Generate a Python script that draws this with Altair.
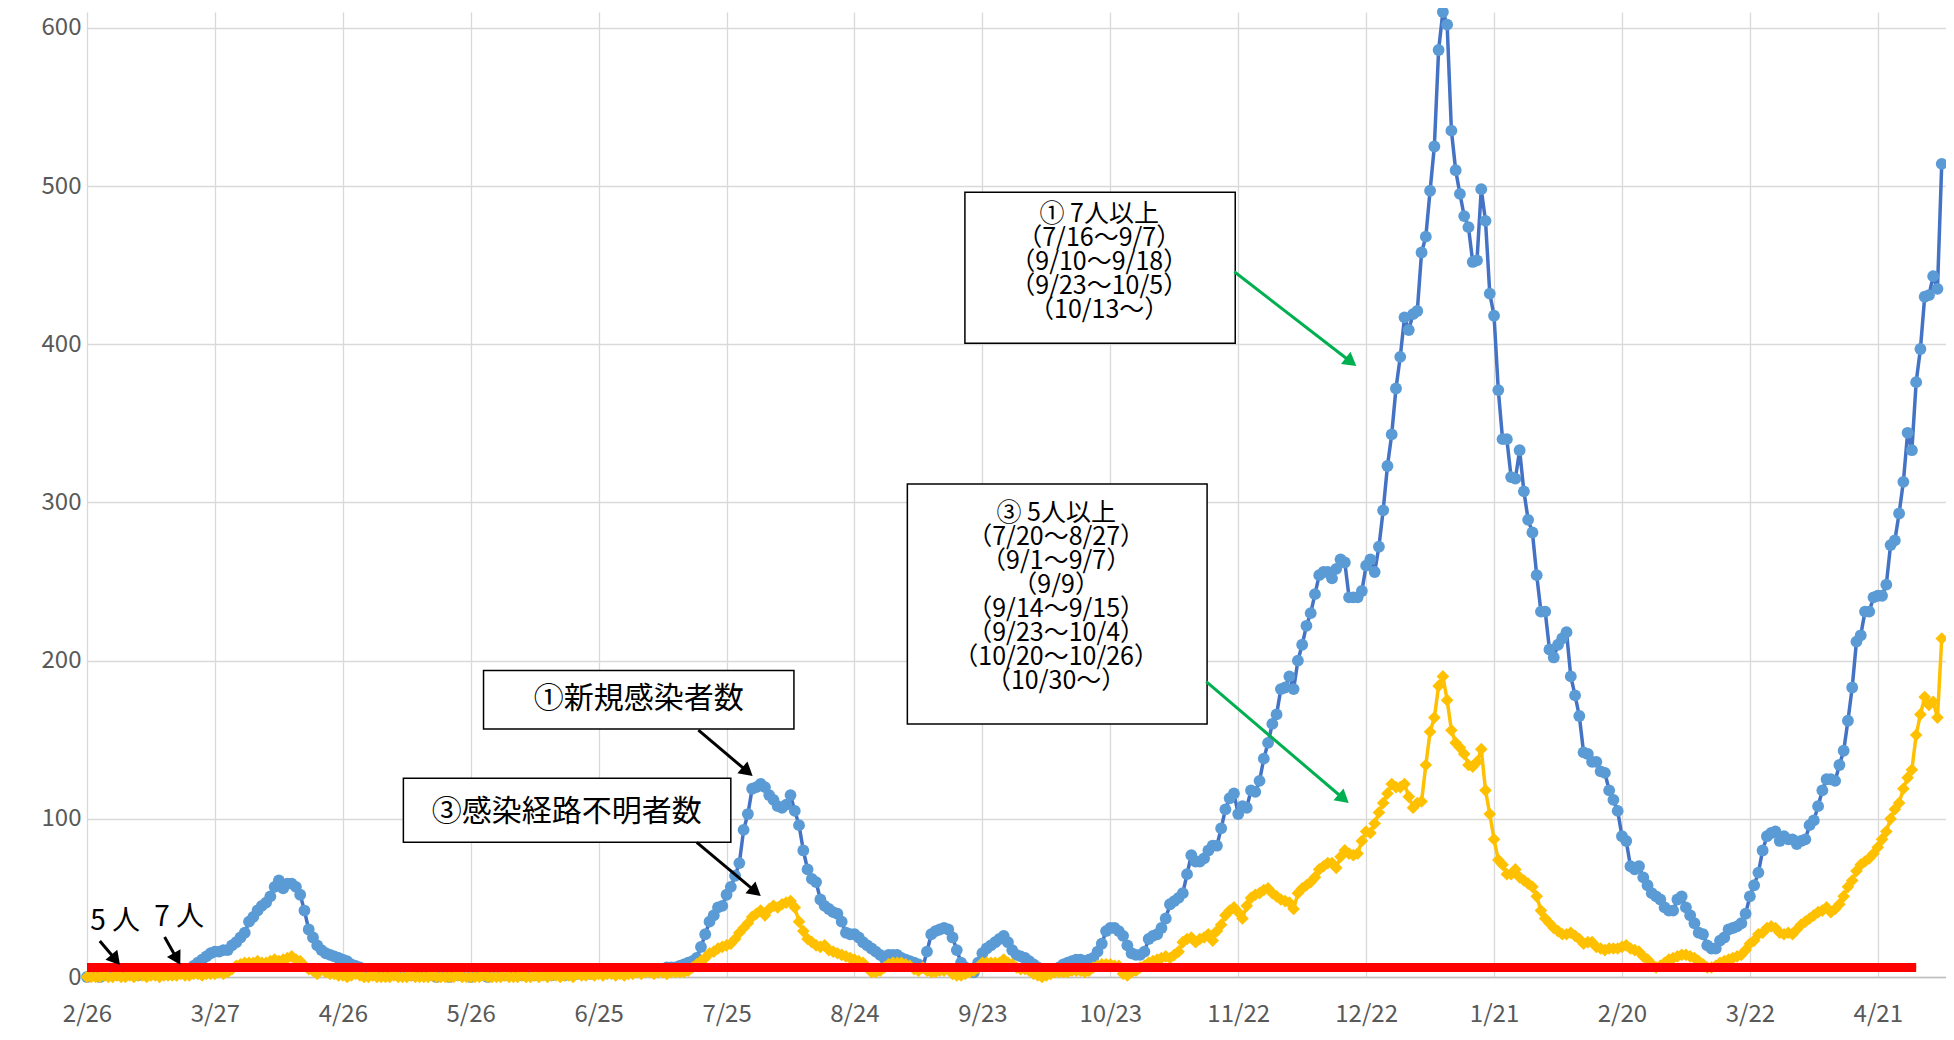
import math
import altair as alt
import pandas as pd

# ---------------- data ----------------
start_date = "2020-02-26"
tick_labels = ["2/26", "3/27", "4/26", "5/26", "6/25", "7/25", "8/24", "9/23",
               "10/23", "11/22", "12/22", "1/21", "2/20", "3/22", "4/21"]

# ① 新規感染者数 (daily, from 2/26)
blue = [
    0, 1, 1, 0, 1, 1, 1, 2, 1, 2,
    2, 2, 1, 2, 3, 2, 3, 3, 2, 3,
    3, 4, 4, 5, 5, 7, 9, 11, 13, 15,
    16, 16, 17, 17, 20, 22, 25, 28, 35, 38,
    42, 45, 47, 51, 57, 61, 56, 59, 59, 57,
    52, 42, 30, 25, 20, 17, 15, 14, 13, 12,
    11, 10, 8, 7, 6, 5, 4, 4, 3, 3,
    3, 2, 2, 2, 2, 1, 1, 1, 1, 1,
    1, 1, 0, 1, 1, 0, 1, 1, 1, 1,
    0, 1, 1, 1, 0, 1, 1, 1, 1, 1,
    1, 1, 1, 2, 1, 1, 1, 2, 1, 1,
    2, 2, 1, 2, 2, 2, 3, 2, 2, 3,
    3, 3, 4, 3, 3, 4, 4, 3, 4, 4,
    4, 5, 4, 5, 5, 5, 6, 6, 6, 7,
    8, 9, 10, 12, 19, 27, 35, 39, 44, 45,
    52, 57, 64, 72, 93, 103, 119, 120, 122, 120,
    115, 112, 108, 107, 109, 115, 105, 96, 80, 68,
    62, 60, 49, 45, 43, 41, 40, 35, 28, 27,
    27, 25, 22, 20, 18, 16, 14, 12, 14, 14,
    14, 12, 11, 10, 9, 8, 6, 16, 27, 29,
    30, 31, 30, 25, 17, 9, 6, 4, 3, 9,
    15, 18, 20, 22, 24, 26, 22, 17, 14, 13,
    12, 10, 8, 6, 5, 4, 4, 5, 6, 8,
    9, 10, 11, 11, 10, 11, 12, 16, 21, 29,
    31, 31, 29, 26, 20, 15, 14, 14, 16, 24,
    26, 27, 31, 37, 46, 48, 50, 53, 65, 77,
    73, 73, 75, 80, 83, 83, 94, 106, 113, 116,
    103, 108, 107, 118, 117, 124, 138, 148, 160, 166,
    182, 183, 190, 182, 200, 210, 222, 230, 242, 254,
    256, 256, 252, 258, 264, 262, 240, 240, 240, 244,
    260, 264, 256, 272, 295, 323, 343, 372, 392, 417,
    409, 419, 421, 458, 468, 497, 525, 586, 610, 602,
    535, 510, 495, 481, 474, 452, 453, 498, 478, 432,
    418, 371, 340, 340, 316, 315, 333, 307, 289, 281,
    254, 231, 231, 207, 202, 210, 214, 218, 190, 178,
    165, 142, 141, 136, 136, 130, 129, 118, 112, 105,
    89, 86, 70, 68, 70, 63, 58, 53, 51, 49,
    44, 42, 42, 49, 51, 44, 39, 34, 28, 27,
    20, 18, 18, 23, 25, 30, 31, 32, 34, 40,
    51, 58, 66, 80, 89, 91, 92, 86, 89, 87,
    87, 84, 86, 87, 96, 99, 108, 118, 125, 125,
    124, 134, 143, 162, 183, 212, 216, 231, 231, 240,
    241, 241, 248, 273, 276, 293, 313, 344, 333, 376,
    397, 430, 431, 443, 435, 514,
]

# ③ 感染経路不明者数 (daily, from 2/26)
yellow = [
    0, 0, 0, 0, 1, 0, 0, 1, 0, 0,
    1, 0, 1, 1, 0, 1, 1, 0, 1, 1,
    1, 1, 2, 1, 1, 2, 2, 1, 2, 2,
    2, 3, 2, 3, 5, 7, 8, 9, 9, 9,
    10, 9, 9, 10, 11, 10, 11, 12, 13, 11,
    10, 7, 5, 4, 2, 5, 3, 2, 2, 1,
    1, 0, 1, 2, 1, 0, 0, 1, 0, 0,
    0, 0, 1, 0, 0, 0, 1, 0, 0, 0,
    0, 1, 0, 0, 0, 0, 0, 1, 0, 0,
    0, 0, 0, 1, 0, 0, 0, 0, 1, 0,
    0, 0, 1, 0, 0, 1, 0, 1, 0, 1,
    1, 0, 1, 1, 0, 2, 1, 1, 2, 1,
    2, 1, 2, 2, 1, 2, 1, 2, 2, 3,
    2, 3, 3, 2, 3, 3, 2, 3, 3, 3,
    3, 4, 6, 8, 10, 12, 15, 16, 18, 19,
    20, 21, 24, 28, 31, 34, 38, 40, 42, 39,
    43, 45, 44, 46, 47, 48, 44, 35, 29, 24,
    22, 20, 19, 20, 17, 16, 15, 14, 13, 12,
    11, 10, 9, 6, 3, 3, 4, 6, 8, 9,
    9, 9, 8, 7, 5, 4, 6, 4, 3, 3,
    4, 4, 5, 2, 1, 1, 2, 3, 4, 6,
    9, 9, 9, 9, 9, 11, 9, 8, 6, 5,
    5, 4, 2, 1, 0, 1, 2, 3, 3, 3,
    3, 4, 4, 4, 3, 4, 6, 7, 8, 8,
    8, 7, 7, 2, 1, 3, 4, 6, 7, 9,
    10, 11, 12, 13, 12, 14, 16, 22, 24, 25,
    22, 24, 25, 27, 23, 29, 33, 39, 42, 44,
    41, 37, 45, 50, 52, 53, 55, 56, 53, 51,
    49, 48, 47, 43, 53, 56, 58, 60, 63, 68,
    70, 72, 72, 69, 76, 80, 78, 77, 78, 86,
    92, 91, 97, 104, 110, 116, 122, 120, 120, 122,
    114, 107, 110, 111, 134, 155, 164, 184, 190, 175,
    156, 148, 145, 141, 134, 133, 136, 144, 118, 103,
    87, 74, 71, 65, 65, 68, 63, 61, 59, 57,
    51, 42, 37, 34, 31, 29, 27, 27, 28, 26,
    24, 21, 22, 22, 19, 18, 17, 18, 18, 18,
    19, 20, 18, 17, 16, 13, 11, 8, 6, 7,
    9, 11, 12, 13, 14, 14, 13, 12, 10, 8,
    6, 6, 7, 9, 10, 11, 12, 13, 14, 17,
    21, 23, 27, 28, 31, 32, 31, 28, 27, 28,
    27, 30, 33, 35, 37, 39, 41, 42, 44, 41,
    43, 46, 51, 57, 61, 67, 71, 73, 75, 78,
    82, 87, 92, 100, 106, 110, 119, 126, 131, 153,
    166, 177, 172, 174, 164, 214,
]

thresholds = [5, 7]          # 5人 / 7人 lines
threshold_last_day = 429

# annotation texts
box1_text = "①新規感染者数"
box2_text = "③感染経路不明者数"
box3_lines = ["① 7人以上", "（7/16〜9/7）", "（9/10〜9/18）", "（9/23〜10/5）", "（10/13〜）"]
box4_lines = ["③ 5人以上", "（7/20〜8/27）", "（9/1〜9/7）", "（9/9）", "（9/14〜9/15）",
              "（9/23〜10/4）", "（10/20〜10/26）", "（10/30〜）"]

# ---------------- layout ----------------
W, H = 1859, 965
XMAX, YMAX = 436, 610
PX_X = W / XMAX
PX_Y = H / YMAX
FONT = "Noto Sans CJK JP"

df = pd.DataFrame({"day": list(range(len(blue))), "blue": blue, "yellow": yellow})

x_scale = alt.Scale(domain=[0, XMAX], nice=False, zero=False)
y_scale = alt.Scale(domain=[0, YMAX], nice=False, zero=False)

label_expr = "[" + ",".join(f"'{t}'" for t in tick_labels) + "][round(datum.value/30)]"

x_axis = alt.Axis(values=[30 * i for i in range(len(tick_labels))], labelExpr=label_expr,
                  title=None, grid=True, gridColor="#D9D9D9", gridWidth=1.3,
                  ticks=False, domain=True, domainColor="#BFBFBF", domainWidth=1.5,
                  labelFont=FONT, labelFontSize=24, labelColor="#595959",
                  labelPadding=25, labelFlush=False, labelOverlap=False, labelBound=False)
y_axis = alt.Axis(values=list(range(0, 601, 100)), title=None, grid=True,
                  gridColor="#D9D9D9", gridWidth=1.3, ticks=False, domain=False,
                  labelFont=FONT, labelFontSize=24, labelColor="#595959",
                  labelPadding=6, labelOverlap=False)

X = alt.X("day:Q", scale=x_scale, axis=x_axis)

blue_line = alt.Chart(df).mark_line(color="#4472C4", strokeWidth=3.5).encode(
    x=X, y=alt.Y("blue:Q", scale=y_scale, axis=y_axis))
blue_pts = alt.Chart(df).mark_point(shape="circle", filled=True, size=140, opacity=1,
                                    color="#5B9BD5").encode(
    x=alt.X("day:Q", scale=x_scale), y=alt.Y("blue:Q", scale=y_scale))
yellow_line = alt.Chart(df).mark_line(color="#FFC000", strokeWidth=3.5).encode(
    x=alt.X("day:Q", scale=x_scale), y=alt.Y("yellow:Q", scale=y_scale))
yellow_pts = alt.Chart(df).mark_point(shape="diamond", filled=True, size=160, opacity=1,
                                      color="#FFC000").encode(
    x=alt.X("day:Q", scale=x_scale), y=alt.Y("yellow:Q", scale=y_scale))

red_df = pd.DataFrame({"y": thresholds, "x": [0] * len(thresholds),
                       "x2": [threshold_last_day] * len(thresholds)})
red = alt.Chart(red_df).mark_rule(color="#FF0000", strokeWidth=6).encode(
    x=alt.X("x:Q", scale=x_scale), x2="x2:Q", y=alt.Y("y:Q", scale=y_scale))

# boxes (data coordinates)
boxes_df = pd.DataFrame([
    {"x": 93.0, "x2": 165.8, "y": 193.7, "y2": 156.8},
    {"x": 74.2, "x2": 151.0, "y": 125.6, "y2": 85.1},
    {"x": 205.9, "x2": 269.3, "y": 496.0, "y2": 400.6},
    {"x": 192.4, "x2": 262.7, "y": 311.6, "y2": 159.9},
])
boxes = alt.Chart(boxes_df).mark_rect(fill="white", stroke="black", strokeWidth=1.5).encode(
    x=alt.X("x:Q", scale=x_scale), x2="x2:Q", y=alt.Y("y:Q", scale=y_scale), y2="y2:Q")

texts = [
    {"x": 129.4, "y": 175.5, "t": box1_text, "s": 30},
    {"x": 112.5, "y": 104.0, "t": box2_text, "s": 30},
    {"x": 6.6, "y": 35.0, "t": "5 人", "s": 28},
    {"x": 21.6, "y": 37.0, "t": "7 人", "s": 28},
]
for i, line in enumerate(box3_lines):
    texts.append({"x": 237.4, "y": 482.5 - 15.2 * i, "t": line, "s": 25})
for i, line in enumerate(box4_lines):
    texts.append({"x": 227.3, "y": 293.5 - 15.2 * i, "t": line, "s": 25})
text_df = pd.DataFrame(texts)
text_layer = alt.Chart(text_df).mark_text(font=FONT, color="black", align="center",
                                          baseline="middle").encode(
    x=alt.X("x:Q", scale=x_scale), y=alt.Y("y:Q", scale=y_scale), text="t:N",
    size=alt.Size("s:Q", scale=None))

# arrows
arrows = [
    (143.4, 156.1, 156.3, 126.6, "black"),
    (143.0, 85.1, 158.2, 50.8, "black"),
    (269.1, 445.8, 297.9, 385.8, "#00B050"),
    (262.5, 186.7, 296.1, 109.5, "#00B050"),
    (3.0, 22.8, 7.9, 7.1, "black"),
    (18.2, 25.3, 22.0, 7.1, "black"),
]
HEAD = 240
r = math.sqrt(HEAD) / 2
shafts, heads = [], []
for x1, y1, x2, y2, c in arrows:
    dxp = (x2 - x1) * PX_X
    dyp = (y2 - y1) * PX_Y
    L = math.hypot(dxp, dyp)
    ux, uy = dxp / L, dyp / L
    cx = x2 - r * ux / PX_X
    cy = y2 - r * uy / PX_Y
    ang = math.degrees(math.atan2(-dyp, dxp)) % 360
    shafts.append({"x": x1, "y": y1, "x2": cx, "y2": cy, "c": c})
    heads.append({"x": cx, "y": cy, "a": ang, "c": c})
shaft_layer = alt.Chart(pd.DataFrame(shafts)).mark_rule(strokeWidth=3).encode(
    x=alt.X("x:Q", scale=x_scale), y=alt.Y("y:Q", scale=y_scale), x2="x2:Q", y2="y2:Q",
    color=alt.Color("c:N", scale=None))
head_layer = alt.Chart(pd.DataFrame(heads)).mark_point(shape="triangle-right", filled=True,
                                                       size=HEAD, opacity=1).encode(
    x=alt.X("x:Q", scale=x_scale), y=alt.Y("y:Q", scale=y_scale),
    angle=alt.Angle("a:Q", scale=None), color=alt.Color("c:N", scale=None))

chart = alt.layer(
    blue_line, blue_pts, yellow_line, yellow_pts, red, boxes, text_layer,
    shaft_layer, head_layer
).properties(
    width=W, height=H,
    padding={"left": 79, "top": 4, "right": 0, "bottom": 51},
    autosize=alt.AutoSizeParams(type="none"),
    background="white",
).configure_view(stroke=None)

chart.save("out.html", embed_options={"renderer": "svg", "actions": False})
